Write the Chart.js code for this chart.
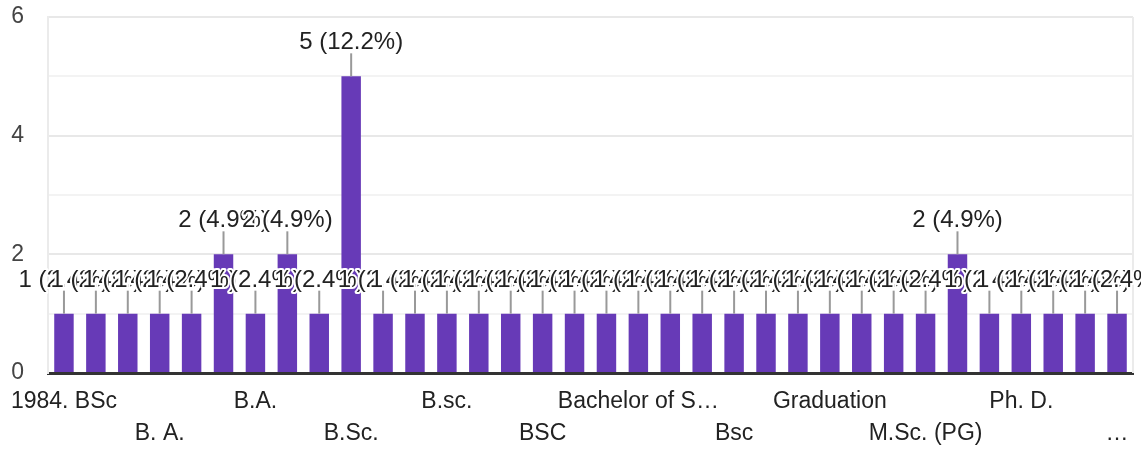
<!DOCTYPE html>
<html>
<head>
<meta charset="utf-8">
<script src="https://cdn.jsdelivr.net/npm/chart.js@4/dist/chart.umd.min.js"></script>
<style>
  html, body { margin: 0; padding: 0; background: #ffffff; }
  canvas { display: block; }
</style>
</head>
<body>
<canvas id="c" width="1141" height="452"></canvas>
<script>
const categories = [
  "1984. BSc", "B Sc", "B. A", "B. A.", "B. Sc", "B.A", "B.A.", "B.Ed", "B.Sc", "B.Sc.",
  "B.Sc. B.Ed", "B.com", "B.sc.", "BA", "BCA", "BSC", "BSc", "BTech", "Bachelor of Science", "Bachelor's",
  "Bcom", "Bsc", "Diploma", "Graduate", "Graduation", "M.A.", "M.Com", "M.Sc. (PG)", "M.Sc.", "MSc",
  "Ph. D.", "Post Graduation", "Postgraduate", "Science graduate with teaching degree"
];
const values = [
  1, 1, 1, 1, 1, 2, 1, 2, 1, 5,
  1, 1, 1, 1, 1, 1, 1, 1, 1, 1,
  1, 1, 1, 1, 1, 1, 1, 1, 2, 1,
  1, 1, 1, 1
];
const tickLabels = ["1984. BSc", "B. A.", "B.A.", "B.Sc.", "B.sc.", "BSC", "Bachelor of S\u2026", "Bsc", "Graduation", "M.Sc. (PG)", "Ph. D.", "\u2026"];
const yTicks = [0, 1, 2, 3, 4, 5, 6];

const total = values.reduce((a, b) => a + b, 0);
const FONT = "Arial, 'Liberation Sans', sans-serif";

const annotationPlugin = {
  id: 'annot',
  beforeDatasetsDraw(chart) {
    const { ctx, chartArea } = chart;
    ctx.save();
    ctx.strokeStyle = '#ebebeb';
    ctx.lineWidth = 2;
    ctx.beginPath();
    ctx.moveTo(chartArea.right, chartArea.top);
    ctx.lineTo(chartArea.right, chartArea.bottom);
    ctx.stroke();
    ctx.restore();
  },
  afterDatasetsDraw(chart) {
    const { ctx } = chart;
    const meta = chart.getDatasetMeta(0);
    ctx.save();
    ctx.strokeStyle = '#999999';
    ctx.lineWidth = 2;
    meta.data.forEach((bar) => {
      ctx.beginPath();
      ctx.moveTo(bar.x, bar.y);
      ctx.lineTo(bar.x, bar.y - 23);
      ctx.stroke();
    });
    ctx.font = '24px ' + FONT;
    ctx.textAlign = 'center';
    ctx.textBaseline = 'alphabetic';
    ctx.lineJoin = 'round';
    meta.data.forEach((bar, i) => {
      const v = values[i];
      const txt = v + ' (' + (v / total * 100).toFixed(1) + '%)';
      const y = bar.y - 27;
      ctx.strokeStyle = '#ffffff';
      ctx.lineWidth = 4;
      ctx.strokeText(txt, bar.x, y);
      ctx.fillStyle = '#222222';
      ctx.fillText(txt, bar.x, y);
    });
    ctx.restore();
  }
};

new Chart(document.getElementById('c'), {
  type: 'bar',
  data: {
    labels: categories,
    datasets: [{
      data: values,
      backgroundColor: '#673ab7',
      borderWidth: 0,
      categoryPercentage: 1.0,
      barPercentage: 0.61
    }]
  },
  options: {
    responsive: false,
    animation: false,
    devicePixelRatio: 1,
    layout: { padding: { top: 17, right: 8, left: 0, bottom: 0 } },
    plugins: {
      legend: { display: false },
      tooltip: { enabled: false }
    },
    scales: {
      x: {
        offset: true,
        grid: { display: false, drawTicks: false },
        border: { display: true, color: '#333333', width: 3 },
        afterFit(scale) { scale.height = 79; scale.paddingLeft = 0; scale.paddingRight = 0; },
        ticks: {
          autoSkip: false,
          maxRotation: 0,
          minRotation: 0,
          padding: 13,
          color: '#222222',
          font: { family: FONT, size: 23, lineHeight: 32 / 23 },
          callback(value, index) {
            if (index % 3 !== 0) return '';
            const k = index / 3;
            const t = tickLabels[k];
            if (t === undefined) return '';
            return k % 2 === 0 ? t : ['', t];
          }
        }
      },
      y: {
        min: yTicks[0],
        max: yTicks[yTicks.length - 1],
        afterBuildTicks(scale) { scale.ticks = yTicks.map(v => ({ value: v })); },
        afterFit(scale) { scale.width = 48; scale.paddingTop = 0; scale.paddingBottom = 0; },
        grid: {
          drawTicks: false,
          lineWidth: 2,
          color: (c) => (c.tick && c.tick.value % 2 === 0) ? '#e8e8e8' : '#f3f3f3'
        },
        border: { display: true, color: '#ebebeb', width: 2 },
        ticks: {
          padding: 24,
          color: '#444444',
          font: { family: FONT, size: 23 },
          callback(value) { return value % 2 === 0 ? String(value) : ''; }
        }
      }
    }
  },
  plugins: [annotationPlugin]
});
</script>
</body>
</html>
